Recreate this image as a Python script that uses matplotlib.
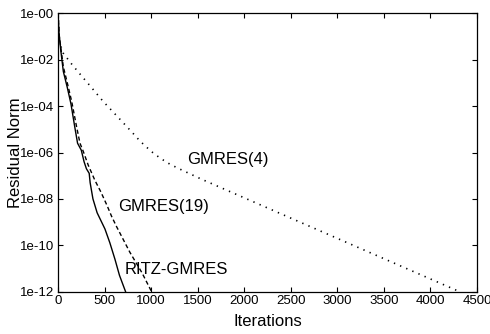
import numpy as np
import matplotlib
matplotlib.use("Agg")
import matplotlib.pyplot as plt

plt.rcParams['font.family'] = ['Liberation Sans', 'DejaVu Sans']

# Convergence histories: iteration count and log10 of the residual norm
ritz_iter = [0, 10, 30, 57, 100, 139, 180, 210, 250, 280, 305, 335, 345, 375, 420, 504, 557, 611, 660, 725]
ritz_log = [0, -0.8, -1.6, -2.5, -3.2, -3.9, -4.9, -5.6, -5.9, -6.4, -6.7, -6.9, -7.3, -8.0, -8.6, -9.3, -9.9, -10.6, -11.3, -12.0]

g19_iter = [0, 14, 57, 100, 147, 200, 236, 271, 325, 396, 460, 528, 575, 629, 700, 771, 903, 1004]
g19_log = [0, -1.0, -2.3, -3.0, -3.8, -4.9, -5.6, -5.95, -6.55, -7.2, -7.7, -8.3, -8.75, -9.2, -9.75, -10.3, -11.2, -12.0]

g4_iter = [0, 10, 21, 40, 57, 150, 254, 350, 486, 650, 805, 879, 1000, 1100, 1200, 1300, 1540, 4310]
g4_log = [0, -0.9, -1.36, -1.5, -1.72, -2.2, -2.7, -3.15, -3.8, -4.5, -5.17, -5.5, -5.95, -6.25, -6.5, -6.7, -7.15, -12.0]

x_ticks = [0, 500, 1000, 1500, 2000, 2500, 3000, 3500, 4000, 4500]
y_exps = [0, -2, -4, -6, -8, -10, -12]
y_labels = ["1e-00", "1e-02", "1e-04", "1e-06", "1e-08", "1e-10", "1e-12"]

fig = plt.figure(figsize=(4.9, 3.34), dpi=100)
ax = fig.add_axes([0.1184, 0.1272, 0.855, 0.8324])

ax.plot(ritz_iter, 10.0 ** np.array(ritz_log), color='black', lw=1.0, linestyle='-')
ax.plot(g19_iter, 10.0 ** np.array(g19_log), color='black', lw=1.0, linestyle=(0, (3, 2)))
ax.plot(g4_iter, 10.0 ** np.array(g4_log), color='black', lw=1.2, linestyle=(0, (0.8, 3.2)))

ax.set_yscale('log')
ax.set_xlim(0, 4500)
ax.set_ylim(1e-12, 1.0)
ax.set_xticks(x_ticks)
ax.set_xticklabels([str(t) for t in x_ticks])
ax.set_yticks([10.0 ** e for e in y_exps])
ax.set_yticklabels(y_labels)
ax.yaxis.set_minor_locator(matplotlib.ticker.NullLocator())
ax.tick_params(direction='in', length=3.5, width=0.8, top=True, right=True,
               labelsize=9.5, pad=2.5)

for s in ax.spines.values():
    s.set_linewidth(0.9)

ax.set_xlabel("Iterations", fontsize=12, labelpad=5)
ax.set_ylabel("Residual Norm", fontsize=12)
ax.yaxis.set_label_coords(-0.084, 0.5)

ax.text(1390, 10 ** -6.29, "GMRES(4)", fontsize=12, va='center', ha='left')
ax.text(646, 10 ** -8.35, "GMRES(19)", fontsize=12, va='center', ha='left')
ax.text(718, 10 ** -11.03, "RITZ-GMRES", fontsize=12, va='center', ha='left')

fig.savefig("out.png", dpi=100)
